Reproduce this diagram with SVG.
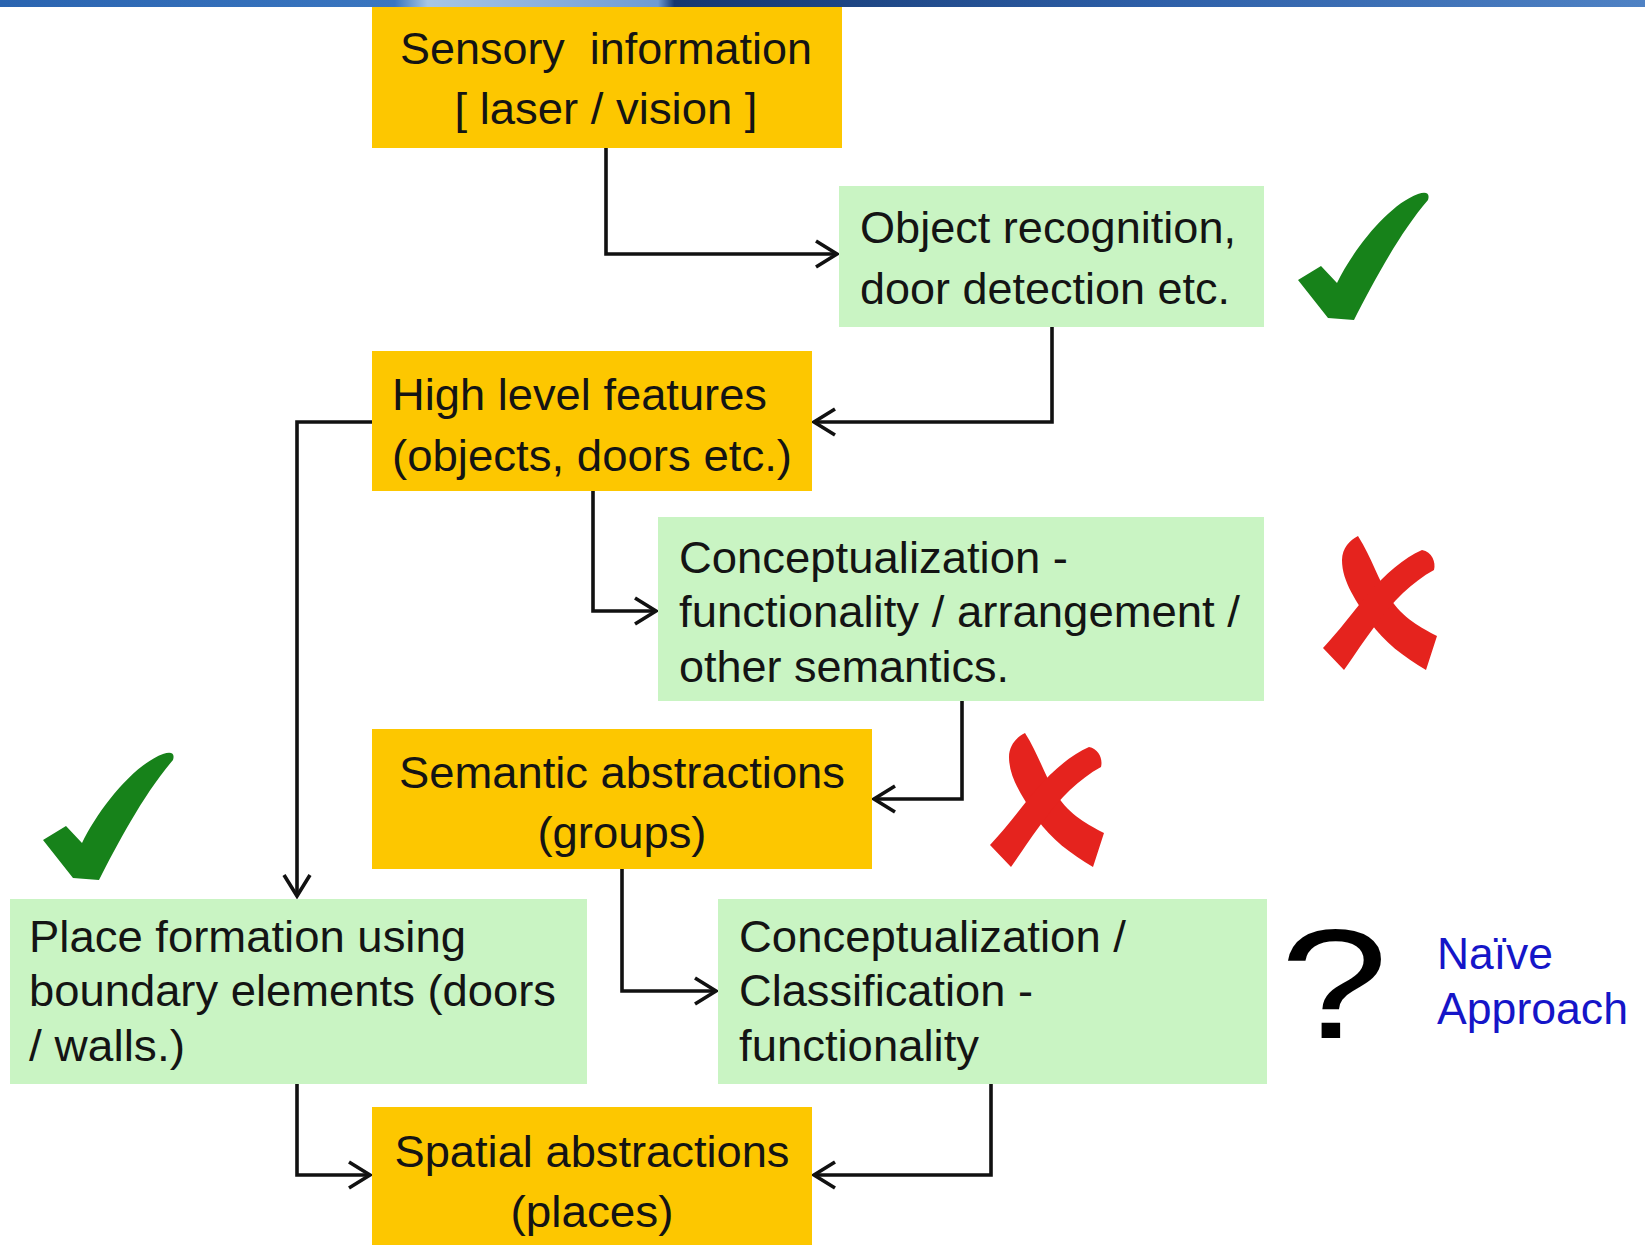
<svg xmlns="http://www.w3.org/2000/svg" width="1645" height="1245" viewBox="0 0 1645 1245">
<style>
.y{fill:#FDC700}
.g{fill:#C9F4C3}
.t{font-family:"Liberation Sans",Arial,sans-serif;font-size:45px;fill:#141414;white-space:pre}
.b{font-family:"Liberation Sans",Arial,sans-serif;font-size:45px;fill:#1515C8}
.c{fill:none;stroke:#111;stroke-width:3.6}
.ok{fill:#17821A}
.no{fill:#E5231E}
</style>
<defs>
<linearGradient id="ban" x1="0" y1="0" x2="1" y2="0">
<stop offset="0" stop-color="#2a64b0"/>
<stop offset="0.24" stop-color="#3a76c0"/>
<stop offset="0.26" stop-color="#a7c6e4"/>
<stop offset="0.40" stop-color="#6e9bd2"/>
<stop offset="0.41" stop-color="#15376f"/>
<stop offset="0.7" stop-color="#2d5fa8"/>
<stop offset="1" stop-color="#4f82c4"/>
</linearGradient>
<marker id="ah" markerUnits="userSpaceOnUse" markerWidth="28" markerHeight="32" viewBox="0 0 28 32" refX="24" refY="16" orient="auto">
<path d="M3,3 L24,16 L3,29" fill="none" stroke="#111" stroke-width="3.6"/>
</marker>
<path id="chk" d="M0,90 L23,76 L39,93 C55,60 90,15 120,4 Q133,0 130,10 C100,45 74,95 56,130 L30,128 Z"/>
<g id="xm">
<path d="M58,16 C72,38 78,60 90,78 C102,98 122,108 137,116 L126,150 C104,137 84,122 70,102 C57,82 42,62 42,40 C42,28 50,20 58,16 Z"/>
<path d="M122,30 C132,32 136,42 134,50 C112,62 92,82 78,102 C64,120 54,136 44,150 L23,128 C38,112 53,92 68,74 C86,53 104,38 122,30 Z"/>
</g>
</defs>
<rect x="0" y="0" width="1645" height="1245" fill="#fff"/>
<rect x="0" y="0" width="1645" height="7" fill="url(#ban)"/>

<g id="connectors">
<path class="c" d="M606,148 V254 H837" marker-end="url(#ah)"/>
<path class="c" d="M1052,327 V422 H814" marker-end="url(#ah)"/>
<path class="c" d="M372,422 H297 V896" stroke-width="2.6" marker-end="url(#ah)"/>
<path class="c" d="M593,491 V611 H656" marker-end="url(#ah)"/>
<path class="c" d="M962,701 V799 H874" marker-end="url(#ah)"/>
<path class="c" d="M622,869 V991 H716" marker-end="url(#ah)"/>
<path class="c" d="M297,1084 V1175 H370" marker-end="url(#ah)"/>
<path class="c" d="M991,1084 V1175 H814" marker-end="url(#ah)"/>
</g>

<g id="sensory">
<rect class="y" x="372" y="7" width="470" height="141"/>
<text class="t" x="606" y="64" text-anchor="middle" textLength="412" lengthAdjust="spacingAndGlyphs">Sensory  information</text>
<text class="t" x="606" y="124" text-anchor="middle" textLength="303" lengthAdjust="spacingAndGlyphs">[ laser / vision ]</text>
</g>
<g id="object">
<rect class="g" x="839" y="186" width="425" height="141"/>
<text class="t" x="860" y="243" textLength="376" lengthAdjust="spacingAndGlyphs">Object recognition,</text>
<text class="t" x="860" y="304" textLength="370" lengthAdjust="spacingAndGlyphs">door detection etc.</text>
</g>
<g id="check1" class="ok"><use href="#chk" transform="translate(1298,190)"/></g>
<g id="highlevel">
<rect class="y" x="372" y="351" width="440" height="140"/>
<text class="t" x="392" y="410" textLength="375" lengthAdjust="spacingAndGlyphs">High level features</text>
<text class="t" x="392" y="471" textLength="400" lengthAdjust="spacingAndGlyphs">(objects, doors etc.)</text>
</g>
<g id="concept1">
<rect class="g" x="658" y="517" width="606" height="184"/>
<text class="t" x="679" y="573" textLength="389" lengthAdjust="spacingAndGlyphs">Conceptualization -</text>
<text class="t" x="679" y="627" textLength="561" lengthAdjust="spacingAndGlyphs">functionality / arrangement /</text>
<text class="t" x="679" y="682" textLength="330" lengthAdjust="spacingAndGlyphs">other semantics.</text>
</g>
<g id="cross1" class="no"><use href="#xm" transform="translate(1300,520)"/></g>
<g id="semantic">
<rect class="y" x="372" y="729" width="500" height="140"/>
<text class="t" x="622" y="788" text-anchor="middle" textLength="446" lengthAdjust="spacingAndGlyphs">Semantic abstractions</text>
<text class="t" x="622" y="848" text-anchor="middle" textLength="169" lengthAdjust="spacingAndGlyphs">(groups)</text>
</g>
<g id="cross2" class="no"><use href="#xm" transform="translate(967,717)"/></g>
<g id="check2" class="ok"><use href="#chk" transform="translate(43,750)"/></g>
<g id="place">
<rect class="g" x="10" y="899" width="577" height="185"/>
<text class="t" x="29" y="952" textLength="437" lengthAdjust="spacingAndGlyphs">Place formation using</text>
<text class="t" x="29" y="1006" textLength="527" lengthAdjust="spacingAndGlyphs">boundary elements (doors</text>
<text class="t" x="29" y="1061" textLength="156" lengthAdjust="spacingAndGlyphs">/ walls.)</text>
</g>
<g id="concept2">
<rect class="g" x="718" y="899" width="549" height="185"/>
<text class="t" x="739" y="952" textLength="387" lengthAdjust="spacingAndGlyphs">Conceptualization /</text>
<text class="t" x="739" y="1006" textLength="294" lengthAdjust="spacingAndGlyphs">Classification -</text>
<text class="t" x="739" y="1061" textLength="240" lengthAdjust="spacingAndGlyphs">functionality</text>
</g>
<g id="question">
<text class="t" transform="translate(1280,1038) scale(1.28,1.03)" x="0" y="0" style="font-size:152px;fill:#000">?</text>
</g>
<g id="naive">
<text class="b" x="1437" y="969" textLength="116" lengthAdjust="spacingAndGlyphs">Naïve</text>
<text class="b" x="1437" y="1024" textLength="191" lengthAdjust="spacingAndGlyphs">Approach</text>
</g>
<g id="spatial">
<rect class="y" x="372" y="1107" width="440" height="138"/>
<text class="t" x="592" y="1167" text-anchor="middle" textLength="395" lengthAdjust="spacingAndGlyphs">Spatial abstractions</text>
<text class="t" x="592" y="1227" text-anchor="middle" textLength="163" lengthAdjust="spacingAndGlyphs">(places)</text>
</g>
</svg>
